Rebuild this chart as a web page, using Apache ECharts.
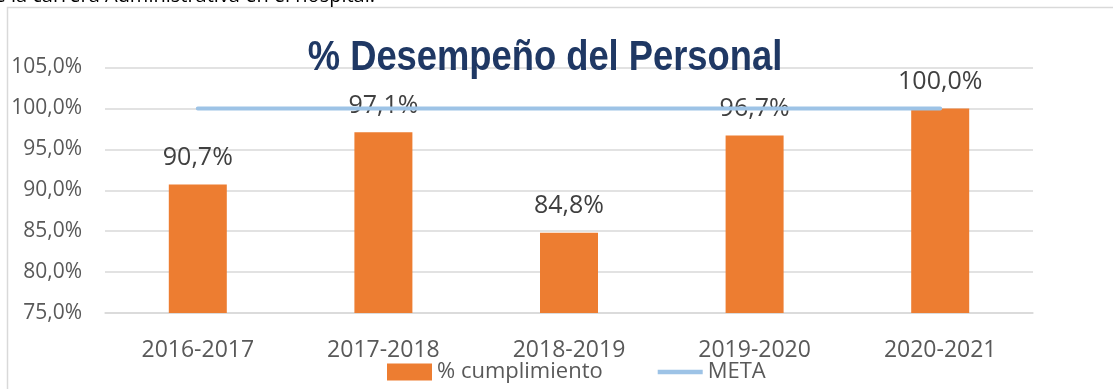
<!DOCTYPE html>
<html>
<head>
<meta charset="utf-8">
<script src="https://cdn.jsdelivr.net/npm/echarts@6/dist/echarts.min.js"></script>
<style>
  html, body { margin: 0; padding: 0; background: #ffffff; }
  #chart { width: 1113px; height: 389px; }
</style>
</head>
<body>
<div id="chart"></div>
<script>
// Periods evaluated
const periods = ['2016-2017', '2017-2018', '2018-2019', '2019-2020', '2020-2021'];
// Staff performance compliance (%)
const cumplimiento = [90.7, 97.1, 84.8, 96.7, 100.0];
// Target (%)
const meta = [100, 100, 100, 100, 100];
// Value axis range
const yMin = 75, yMax = 105, yStep = 5;

const fmt = v => v.toFixed(1).replace('.', ',') + '%';
const uiFont = '"Open Sans", "Liberation Sans", sans-serif';

const chart = echarts.init(document.getElementById('chart'), null, { renderer: 'canvas' });

chart.setOption({
  backgroundColor: '#ffffff',
  animation: false,
  graphic: [
    {
      type: 'rect',
      silent: true,
      z: -10,
      shape: { x: 7.5, y: 7.5, width: 2000, height: 1000 },
      style: { fill: 'none', stroke: '#D9D9D9', lineWidth: 1.5 }
    },
    {
      // text of the page running above the chart box
      type: 'text',
      silent: true,
      x: 375,
      y: 6,
      style: {
        text: 'de la carrera Administrativa en el hospital.',
        fontFamily: uiFont,
        fontSize: 20,
        fill: '#000000',
        align: 'right',
        verticalAlign: 'bottom'
      }
    },
    {
      // chart title, condensed bold
      type: 'text',
      silent: true,
      x: 545,
      y: 58,
      scaleX: 0.865,
      z: 5,
      style: {
        text: '% Desempeño del Personal',
        fontFamily: '"Liberation Sans", Arial, sans-serif',
        fontWeight: 'bold',
        fontSize: 42,
        fill: '#1F3864',
        align: 'center',
        verticalAlign: 'middle'
      }
    }
  ],
  legend: {
    left: 382,
    top: 356,
    itemWidth: 45,
    itemHeight: 17,
    itemGap: 55,
    textStyle: { fontFamily: uiFont, fontSize: 22, color: '#595959' },
    data: [
      { name: '% cumplimiento', icon: 'rect' },
      { name: 'META', icon: 'path://M0,0 L100,0 L100,10 L0,10 Z' }
    ]
  },
  grid: { left: 105, right: 80, top: 67.5, bottom: 76 },
  xAxis: {
    type: 'category',
    data: periods,
    axisLine: { lineStyle: { color: '#D9D9D9', width: 1.5 } },
    axisTick: { show: false },
    axisLabel: { fontFamily: uiFont, fontSize: 23, color: '#595959', margin: 26 }
  },
  yAxis: {
    type: 'value',
    min: yMin,
    max: yMax,
    interval: yStep,
    axisLine: { show: false },
    axisTick: { show: false },
    splitLine: { lineStyle: { color: '#D9D9D9', width: 1.5 } },
    axisLabel: {
      fontFamily: uiFont,
      fontSize: 21,
      color: '#595959',
      margin: 23,
      formatter: v => fmt(v)
    }
  },
  series: [
    {
      name: '% cumplimiento',
      type: 'bar',
      data: cumplimiento,
      barWidth: 58,
      itemStyle: { color: '#ED7D31' },
      label: {
        show: true,
        position: 'top',
        distance: 14,
        fontFamily: uiFont,
        fontSize: 25,
        color: '#404040',
        formatter: p => fmt(p.value)
      }
    },
    {
      name: 'META',
      type: 'line',
      data: meta,
      symbol: 'none',
      itemStyle: { color: '#9DC3E6' },
      lineStyle: { color: '#9DC3E6', width: 4, cap: 'round' },
      z: 3
    }
  ]
});
</script>
</body>
</html>
